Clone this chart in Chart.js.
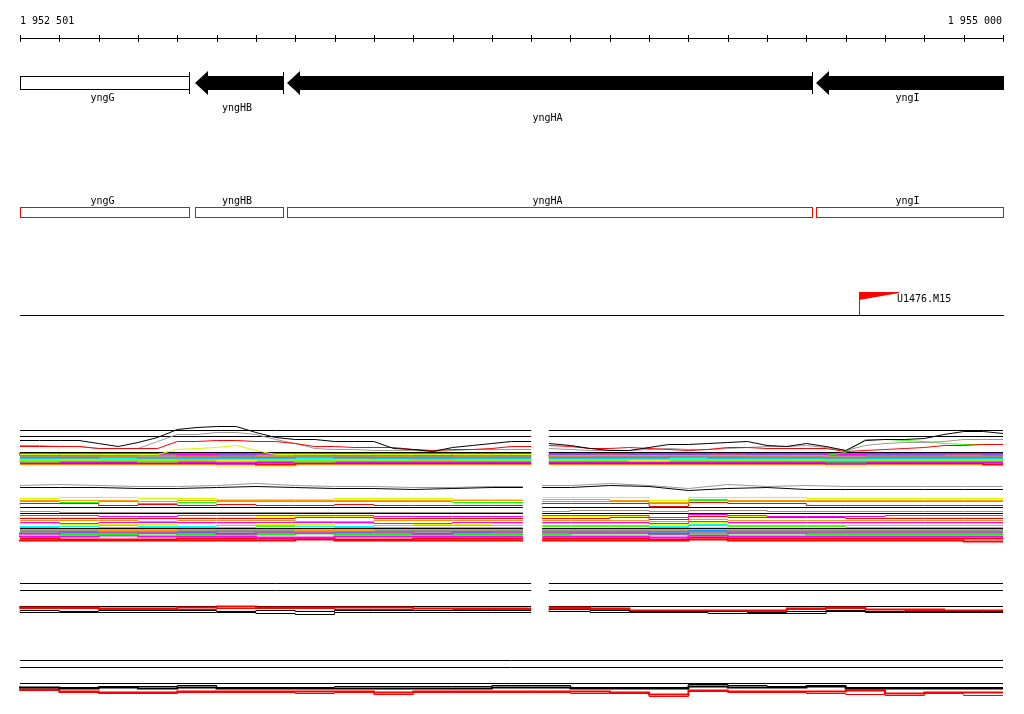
<!DOCTYPE html>
<html><head><meta charset="utf-8">
<script src="https://cdn.jsdelivr.net/npm/chart.js@4/dist/chart.umd.min.js"></script>
<style>html,body{margin:0;padding:0;background:#fff;overflow:hidden}canvas{display:block}</style>
</head><body><canvas id="c" width="1024" height="714"></canvas>
<script>
// ================= DATA =================
const rulerLabels = ['1 952 501', '1 955 000'];
const rulerFrom = 1952500, rulerTo = 1955000, rulerStep = 100;

const geneNames  = ['yngG', 'yngHB', 'yngHA', 'yngI'];
const geneStarts = [1952500, 1952945, 1953179, 1954524];
const geneEnds   = [1952930, 1953169, 1954514, 1955000];
const geneKinds  = ['box', 'arrow', 'arrow', 'arrow'];

const markerNames = ['U1476.M15'];
const markerPositions = [1954634];

// probe positions (bp)
const upLeftPos  = [1952500,1952550,1952600,1952650,1952700,1952750,1952800,1952850,1952900,1952950,1953000,1953050,1953100,1953150,1953200,1953250,1953300,1953350,1953400,1953450,1953500,1953550,1953600,1953650,1953700,1953750,1953800];
const upRightPos = [1953845,1953900,1953950,1954000,1954050,1954100,1954150,1954200,1954250,1954300,1954350,1954400,1954450,1954500,1954550,1954600,1954650,1954700,1954750,1954800,1954850,1954900,1954950,1955000];
const coarseLeftPos  = [1952500,1952600,1952700,1952800,1952900,1953000,1953100,1953200,1953300,1953400,1953500,1953600,1953700,1953800];
const coarseRightPos = [1953845,1953950,1954050,1954150,1954250,1954350,1954450,1954550,1954650,1954750,1954850,1954950,1955000];
const midLeftPos  = [1952500,1952600,1952700,1952800,1952900,1953000,1953100,1953200,1953300,1953400,1953500,1953600,1953700,1953779];
const midRightPos = [1953828,1953900,1954000,1954100,1954200,1954300,1954400,1954500,1954600,1954700,1954800,1954900,1955000];
const lowFullPos = [1952500,1952600,1952700,1952800,1952900,1953000,1953100,1953200,1953300,1953400,1953500,1953600,1953700,1953800,1953900,1954000,1954100,1954200,1954300,1954400,1954500,1954600,1954700,1954800,1954900,1955000];

// panel spans (bp)
const upSpans  = [[1952500,1953800],[1953845,1955000]];
const midSpans = [[1952500,1953779],[1953828,1955000]];
const low1Spans = [[1952500,1953800],[1953845,1955000]];
const low2Spans = [[1952500,1955000]];

// reference levels per panel
const upRefLevels = [36, 30, 14];
const midRefLevels = [34, 28, 13];
const low1RefLevels = [31, 24, 8];
const low2RefLevels = [37, 30, 14];

// upper panel profiles (signal levels)
const ulBlack  = [26,26,26,26,23,20,24,29,37,39,40,40,34,29,27,27,25,25,25,18,17,15,19,21,23,25,25];
const ulGray   = [21,21,20,20,18,18,18,25,32,32,34,34,32,27,23,18,17,17,16,16,16,15,16,17,17,17,17];
const ulRed    = [20,20,20,20,18,18,18,18,25,25,26,26,25,25,23,20,20,19,19,19,17,16,17,17,18,20,20];
const ulYellow = [12,12,12,12,12,12,12,12,17,18,19,21,16,12,12,12,12,12,12,12,12,12,12,12,12,12,12];
const urBlack  = [23,21,18,16,16,19,22,22,23,24,25,21,20,23,20,16,26,27,27,28,32,35,35,33];
const urRed    = [21,20,18,18,19,18,17,16,17,19,19,18,18,18,18,15,16,17,18,19,21,21,22,22];
const urGray   = [18,17,16,16,16,17,18,17,17,18,19,20,20,21,19,16,21,23,24,24,25,27,27,27];
const urGreen  = [11,11,11,11,11,11,11,11,11,11,11,11,11,11,11,14,27,27,26,25,23,22,22,22];

// upper panel dense band
const upBandColors = ['#ff00ff','#1e90ff','#ff8c00','#cd8540','#8c8c8c','#1e90ff','#00ffff','#ffa500','#e6ff00','#00ff00','#80ff00','#ff00ff','#c000ff','#ff0000','#ffff00'];
const upBandLeft = [
  [13,12,13,13,13,12,13,13,13,13,12,12,13,13],
  [12,13,12,12,13,13,12,13,12,12,13,13,12,12],
  [12,12,12,11,12,12,12,11,12,12,11,12,12,12],
  [11,11,11,11,11,10,11,11,11,11,11,11,10,11],
  [10,10,10,10,9,10,10,10,10,10,10,10,10,10],
  [9,9,9,10,9,9,9,9,10,9,9,9,9,9],
  [8,8,9,8,8,8,8,8,8,9,8,8,8,8],
  [8,8,8,8,8,7,8,8,8,8,8,7,8,8],
  [7,7,7,7,7,7,6,7,7,7,7,7,7,7],
  [6,6,6,6,6,6,6,6,6,6,6,6,6,6],
  [6,5,6,6,5,6,6,6,5,6,6,6,6,6],
  [5,5,5,5,5,5,5,5,5,5,5,5,5,5],
  [4,4,4,4,4,4,3,4,4,4,4,4,4,4],
  [3,3,3,3,3,3,3,2,3,3,3,3,3,3],
  [2,2,2,2,2,2,1,1,2,2,2,2,2,2]
];
const upBandRight = [
  [13,13,13,13,13,13,13,13,12,13,13,13,13],
  [12,12,13,12,12,13,12,12,13,12,12,13,12],
  [12,11,12,12,12,12,12,11,12,12,12,12,12],
  [11,11,11,11,11,11,10,11,11,11,11,11,11],
  [10,10,10,10,10,10,10,10,9,10,10,10,10],
  [9,9,9,9,10,9,9,9,9,9,9,9,9],
  [8,8,8,8,8,8,8,8,7,8,8,8,8],
  [8,8,8,8,8,8,8,8,8,8,8,8,8],
  [7,7,7,6,7,7,7,7,7,7,7,7,7],
  [6,6,6,6,6,6,6,6,5,6,6,6,6],
  [6,6,6,6,6,6,6,6,6,6,6,6,6],
  [5,5,5,5,5,5,5,5,4,5,5,5,5],
  [4,4,4,4,4,4,4,4,3,4,4,4,4],
  [3,3,3,3,3,3,3,3,3,3,3,3,2],
  [2,2,2,2,2,2,2,2,1,2,2,2,2]
];

// middle panel profiles
const mlGray  = [56,57,56,55,55,56,58,56,55,55,54,54,55,55];
const mlBlack = [54,54,54,53,53,54,55,54,53,53,52,53,54,54];
const mrGray  = [56,56,58,56,53,57,55,56,55,55,55,55,55];
const mrBlack = [54,54,56,55,51,53,54,52,52,52,52,52,52];

// middle panel lines
const midColors = ['#ccff00','#ff9900','#00ff00','#ff0000','#a09080','#ff00ff','#ffff00','#ff0000','#ff9900','#ff00ff','#e0ff00','#00ffff','#33ff00','#ff9900','#1e90ff','#909090','#ff00ff','#00ff00','#ff00ff','#ff0000','#ff0000'];
const midLeft = [
  [42,43,44,44,43,43,42,42,42,43,43,43,42,42],
  [42,41,41,41,40,41,41,41,41,41,41,41,41,41],
  [40,40,39,40,38,39,40,40,40,40,40,40,39,39],
  [37,38,38,36,37,36,37,36,36,37,36,36,36,36],
  [30,30,29,29,29,29,29,29,29,29,29,29,29,29],
  [26,26,26,25,25,26,26,26,26,26,25,25,25,25],
  [25,24,24,25,24,24,24,25,25,25,25,24,24,24],
  [24,23,23,23,23,23,23,23,24,24,23,23,23,23],
  [21,21,21,21,20,21,21,21,20,20,21,21,21,21],
  [19,19,18,19,19,19,19,19,19,19,18,18,19,19],
  [18,18,17,17,17,18,18,17,17,18,18,17,17,18],
  [16,15,15,16,15,15,16,16,15,15,16,16,16,16],
  [14,14,15,14,14,14,14,15,15,14,14,14,14,14],
  [12,12,12,11,11,12,12,12,11,11,12,12,12,12],
  [11,11,10,11,11,10,11,11,11,10,11,11,10,11],
  [10,10,11,10,10,11,10,10,10,11,10,10,11,10],
  [9,8,9,9,9,9,8,9,9,9,9,8,9,9],
  [7,8,7,7,8,7,7,7,8,7,7,7,7,7],
  [6,5,5,6,5,5,5,4,4,5,5,5,5,5],
  [3,3,2,2,2,3,3,3,3,2,2,3,3,3],
  [2,1,1,1,1,1,1,1,2,1,1,1,1,1]
];
const midRight = [
  [44,44,44,44,41,44,44,44,43,43,43,43,43],
  [42,42,42,41,39,42,41,41,41,41,41,41,41],
  [40,40,40,40,38,41,40,40,40,40,40,40,40],
  [37,38,38,38,35,39,38,38,36,36,36,36,36],
  [30,30,31,31,30,31,31,30,30,30,30,30,30],
  [26,26,26,26,24,27,26,25,25,25,26,26,26],
  [25,25,25,25,24,26,25,25,25,25,24,24,24],
  [24,23,23,24,22,25,24,24,24,23,23,23,23],
  [21,21,21,21,20,22,21,21,21,21,21,21,21],
  [19,19,19,19,18,20,19,19,19,19,19,19,19],
  [18,18,18,18,17,19,18,18,18,18,18,18,18],
  [16,16,16,16,15,17,16,16,16,16,16,16,16],
  [15,15,15,15,14,16,15,15,15,14,14,14,14],
  [12,12,12,12,12,13,12,12,12,12,12,12,12],
  [11,11,11,11,10,11,11,11,11,11,11,11,11],
  [10,10,10,10,10,10,10,10,10,10,10,10,10],
  [9,9,9,9,8,10,9,9,9,9,9,9,9],
  [7,7,8,8,7,8,8,8,7,7,7,7,7],
  [5,5,5,5,4,6,5,5,5,5,5,5,5],
  [3,3,3,3,2,4,3,3,3,3,3,3,3],
  [1,1,1,1,1,2,1,1,1,1,1,1,0]
];

// lower panel 1 (split)
const l1LeftRedA   = [6,7,7,6,6,7,8,7,7,7,7,6,6,6];
const l1LeftRedB   = [5,6,6,5,5,5,6,6,6,5,5,4,5,5];
const l1LeftBlackA = [4,4,3,4,4,4,3,4,3,4,4,4,4,4];
const l1LeftBlackB = [3,2,2,2,2,2,2,1,0,2,2,2,2,2];
const l1RightRedA   = [7,7,6,4,4,4,4,6,7,5,5,4,4];
const l1RightRedB   = [6,6,5,4,3,3,3,5,6,5,4,3,3];
const l1RightBlackA = [5,5,4,3,3,3,2,3,4,3,3,3,3];
const l1RightBlackB = [4,3,2,2,2,1,1,1,3,2,2,2,2];

// lower panel 2 (full width)
const l2BlackA = [11,10,10,11,11,12,10,10,10,11,11,11,11,12,12,10,10,10,13,12,11,12,10,10,10,10];
const l2BlackB = [9,10,9,10,9,10,9,9,9,9,9,9,9,10,10,9,9,9,11,10,10,11,9,9,9,9];
const l2RedA   = [7,8,6,5,5,6,6,6,6,6,5,6,6,6,6,6,5,3,7,6,6,6,7,4,5,5];
const l2RedB   = [6,7,5,4,4,5,5,5,4,5,3,5,5,5,5,4,4,1,6,5,5,4,3,2,4,2];

// ================= LAYOUT / STYLE =================
const X_MIN = 1952449.136, X_MAX = 1955053.409;
const UP_BASE = 466, MID_BASE = 541, L1_BASE = 614, L2_BASE = 697;
const FONT = '10px "DejaVu Sans Mono", monospace';

const datasets = [];
function addSeries(pos, levels, base, color, width, stepped) {
  datasets.push({
    data: pos.map((x, i) => ({ x: x, y: base - levels[i] })),
    borderColor: color, borderWidth: width, pointRadius: 0, fill: false,
    tension: 0, stepped: stepped || false
  });
}
function addRefs(spans, levels, base) {
  spans.forEach(s => levels.forEach(l => addSeries(s, [l, l], base, '#000', 1)));
}

// profiles (on top)
addSeries(upLeftPos, ulBlack, UP_BASE, '#000000', 1);
addSeries(upRightPos, urBlack, UP_BASE, '#000000', 1);
addSeries(upLeftPos, ulRed, UP_BASE, '#ff0000', 1);
addSeries(upRightPos, urRed, UP_BASE, '#ff0000', 1);
addSeries(upLeftPos, ulGray, UP_BASE, '#999999', 1);
addSeries(upRightPos, urGray, UP_BASE, '#999999', 1);
addSeries(upRightPos, urGreen, UP_BASE, '#33ff00', 1);
addSeries(upLeftPos, ulYellow, UP_BASE, '#ccff00', 1);
addSeries(midLeftPos, mlBlack, MID_BASE, '#000000', 1);
addSeries(midRightPos, mrBlack, MID_BASE, '#000000', 1);
addSeries(midLeftPos, mlGray, MID_BASE, '#999999', 1);
addSeries(midRightPos, mrGray, MID_BASE, '#999999', 1);

addSeries(coarseLeftPos, l1LeftBlackA, L1_BASE, '#000', 1, 'after');
addSeries(coarseLeftPos, l1LeftBlackB, L1_BASE, '#000', 1, 'after');
addSeries(coarseLeftPos, l1LeftRedA, L1_BASE, '#ff0000', 2, 'after');
addSeries(coarseLeftPos, l1LeftRedB, L1_BASE, '#ff0000', 1, 'after');
addSeries(coarseRightPos, l1RightBlackA, L1_BASE, '#000', 1, 'after');
addSeries(coarseRightPos, l1RightBlackB, L1_BASE, '#000', 1, 'after');
addSeries(coarseRightPos, l1RightRedA, L1_BASE, '#ff0000', 2, 'after');
addSeries(coarseRightPos, l1RightRedB, L1_BASE, '#ff0000', 1, 'after');

addSeries(lowFullPos, l2BlackA, L2_BASE, '#000', 1, 'after');
addSeries(lowFullPos, l2BlackB, L2_BASE, '#000', 2, 'after');
addSeries(lowFullPos, l2RedA, L2_BASE, '#ff0000', 2, 'after');
addSeries(lowFullPos, l2RedB, L2_BASE, '#ff0000', 1, 'after');

// reference lines
addRefs(upSpans, upRefLevels, UP_BASE);
addRefs(midSpans, midRefLevels, MID_BASE);
addRefs(low1Spans, low1RefLevels, L1_BASE);
addRefs(low2Spans, low2RefLevels, L2_BASE);

// bands
upBandLeft.forEach((lv, i) => addSeries(coarseLeftPos, lv, UP_BASE, upBandColors[i], 2, 'after'));
upBandRight.forEach((lv, i) => addSeries(coarseRightPos, lv, UP_BASE, upBandColors[i], 2, 'after'));
midLeft.forEach((lv, i) => addSeries(midLeftPos, lv, MID_BASE, midColors[i], i >= 13 ? 2 : 1, 'after'));
midRight.forEach((lv, i) => addSeries(midRightPos, lv, MID_BASE, midColors[i], i >= 13 ? 2 : 1, 'after'));

const tracksPlugin = {
  id: 'tracks',
  afterDatasetsDraw(chart) {
    const ctx = chart.ctx, xs = chart.scales.x, ys = chart.scales.y;
    const X = v => Math.round(xs.getPixelForValue(v));
    const R = r => ys.getPixelForValue(r) - 0.5; // top edge of row r
    ctx.save();
    ctx.font = FONT;
    ctx.lineWidth = 1;
    ctx.strokeStyle = '#000';
    ctx.fillStyle = '#000';
    ctx.textBaseline = 'alphabetic';

    // ruler
    ctx.beginPath();
    ctx.moveTo(X(rulerFrom), R(38) + 0.5);
    ctx.lineTo(X(rulerTo) + 1, R(38) + 0.5);
    for (let p = rulerFrom; p <= rulerTo; p += rulerStep) {
      ctx.moveTo(X(p) + 0.5, R(35));
      ctx.lineTo(X(p) + 0.5, R(42));
    }
    ctx.stroke();
    ctx.textAlign = 'left';
    ctx.fillText(rulerLabels[0], X(rulerFrom), R(24));
    ctx.textAlign = 'right';
    ctx.fillText(rulerLabels[1], X(rulerTo) - 1, R(24));

    // genes
    const labelRows = [101, 111, 121, 101];
    geneNames.forEach((name, i) => {
      const x1 = X(geneStarts[i]), x2 = X(geneEnds[i]);
      ctx.fillStyle = '#000';
      if (geneKinds[i] === 'box') {
        ctx.fillStyle = '#fff';
        ctx.fillRect(x1, R(76), x2 - x1, 13);
        ctx.strokeRect(x1 + 0.5, R(76) + 0.5, x2 - x1, 13);
      } else {
        const h = 13;
        ctx.fillStyle = '#000';
        ctx.beginPath();
        ctx.moveTo(x1, R(83));
        ctx.lineTo(x1 + h, R(71));
        ctx.lineTo(x1 + h, R(76));
        ctx.lineTo(x2 + 1, R(76));
        ctx.lineTo(x2 + 1, R(90));
        ctx.lineTo(x1 + h, R(90));
        ctx.lineTo(x1 + h, R(95));
        ctx.closePath();
        ctx.fill();
      }
      if (geneEnds[i] < rulerTo) {
        ctx.beginPath();
        ctx.moveTo(x2 + 0.5, R(72));
        ctx.lineTo(x2 + 0.5, R(94));
        ctx.stroke();
      }
      ctx.fillStyle = '#000';
      ctx.textAlign = 'center';
      ctx.fillText(name, (x1 + x2) / 2 - 2, R(labelRows[i]));
    });

    // red feature boxes
    geneNames.forEach((name, i) => {
      const x1 = X(geneStarts[i]), x2 = X(geneEnds[i]);
      ctx.strokeStyle = '#ff0000';
      ctx.strokeRect(x1 + 0.5, R(207) + 0.5, x2 - x1, 10);
      ctx.fillStyle = '#000';
      ctx.textAlign = 'center';
      ctx.fillText(name, (x1 + x2) / 2 - 2, R(204));
    });

    // marker track
    ctx.strokeStyle = '#000';
    ctx.beginPath();
    ctx.moveTo(X(rulerFrom), R(315) + 0.5);
    ctx.lineTo(X(rulerTo) + 1, R(315) + 0.5);
    ctx.stroke();
    markerNames.forEach((name, i) => {
      const px = X(markerPositions[i]);
      ctx.strokeStyle = '#ff0000';
      ctx.beginPath();
      ctx.moveTo(px + 0.5, R(292));
      ctx.lineTo(px + 0.5, R(315));
      ctx.stroke();
      ctx.fillStyle = '#ff0000';
      ctx.beginPath();
      ctx.moveTo(px, R(292));
      ctx.lineTo(px + 40, R(292));
      ctx.lineTo(px + 40, R(293));
      ctx.lineTo(px, R(300));
      ctx.closePath();
      ctx.fill();
      ctx.fillStyle = '#000';
      ctx.textAlign = 'left';
      ctx.fillText(name, px + 38, R(302));
    });
    ctx.restore();
  }
};

new Chart(document.getElementById('c'), {
  type: 'line',
  data: { datasets: datasets },
  options: {
    responsive: false,
    animation: false,
    devicePixelRatio: 1,
    layout: { padding: 0 },
    parsing: true,
    plugins: { legend: { display: false }, tooltip: { enabled: false } },
    scales: {
      x: { type: 'linear', min: X_MIN, max: X_MAX, display: false },
      y: { type: 'linear', min: -0.5, max: 713.5, reverse: true, display: false }
    }
  },
  plugins: [tracksPlugin]
});
</script>
</body></html>
